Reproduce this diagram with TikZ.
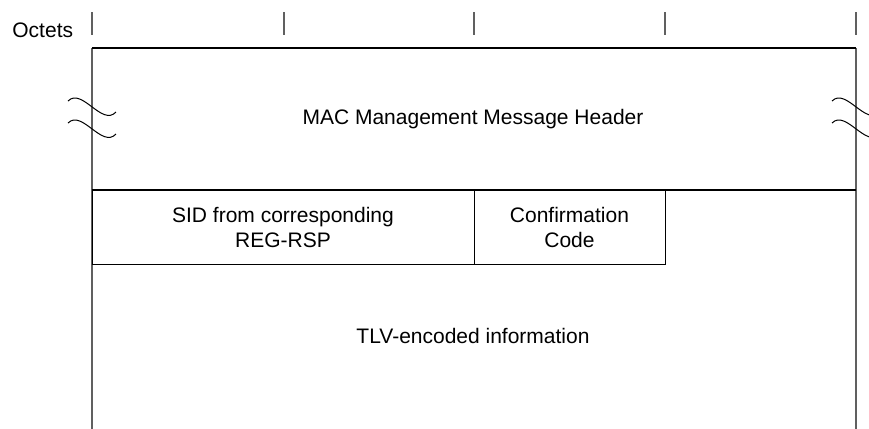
\documentclass[tikz,border=0pt]{standalone}
\usepackage{fontspec}
\setmainfont{Liberation Sans}
\usepackage{tikz}
\usetikzlibrary{positioning, calc}
\definecolor{framegray}{HTML}{606060}
\newcommand{\fieldfont}{\fontsize{10.5}{12.5}\selectfont}

\begin{document}
\begin{tikzpicture}[x=0.5pt, y=-0.5pt,
    field/.style={draw=black, line width=0.5pt, minimum height=37pt, inner sep=0pt,
                  outer sep=0pt, align=center, font=\fieldfont},
    label/.style={font=\fieldfont, inner sep=0pt},
    side/.style={draw=framegray, line width=0.6pt},
    rule/.style={draw=black, line width=0.6pt},
    wave/.style={draw=black, line width=0.5pt},
  ]
  \useasboundingbox (0,0) rectangle (869,429);

  \def\xl{92}    % left edge of the frame
  \def\xr{856}   % right edge of the frame

  % --- octet ruler ---
  \node[label, anchor=west] (octets) at (12,30) {Octets};
  \foreach \tx in {92,284,474,665,856}
    \draw[side] (\tx,12) -- (\tx,35);

  % --- frame ---
  \coordinate (tl) at (\xl,48);
  \coordinate (tr) at (\xr,48);
  \coordinate (bl) at (\xl,429);
  \coordinate (br) at (\xr,429);
  \draw[side] (bl) -- (tl);
  \draw[side] (br) -- (tr);
  \draw[rule] (tl) -- (tr);

  % --- header ---
  \node[label] (header) at (473,119) {MAC Management Message Header};
  \coordinate (ml) at (\xl,190);
  \coordinate (mr) at (\xr,190);
  \draw[rule] (ml) -- (mr);

  % --- break marks ---
  \foreach \bx in {\xl,\xr}
    \foreach \by in {101,123}
      \draw[wave] (\bx-24,\by) .. controls (\bx-10,\by-14) and (\bx+10,\by+26) .. (\bx+24,\by+11);

  % --- fields ---
  \node[field, minimum width=191pt, anchor=north west] (sid) at (ml)
    {SID from corresponding\\REG-RSP};
  \node[field, minimum width=95.5pt, anchor=north west] (conf) at (sid.north east)
    {Confirmation\\Code};

  % --- TLV ---
  \node[label] (tlv) at (473,336) {TLV-encoded information};

\end{tikzpicture}
\end{document}
